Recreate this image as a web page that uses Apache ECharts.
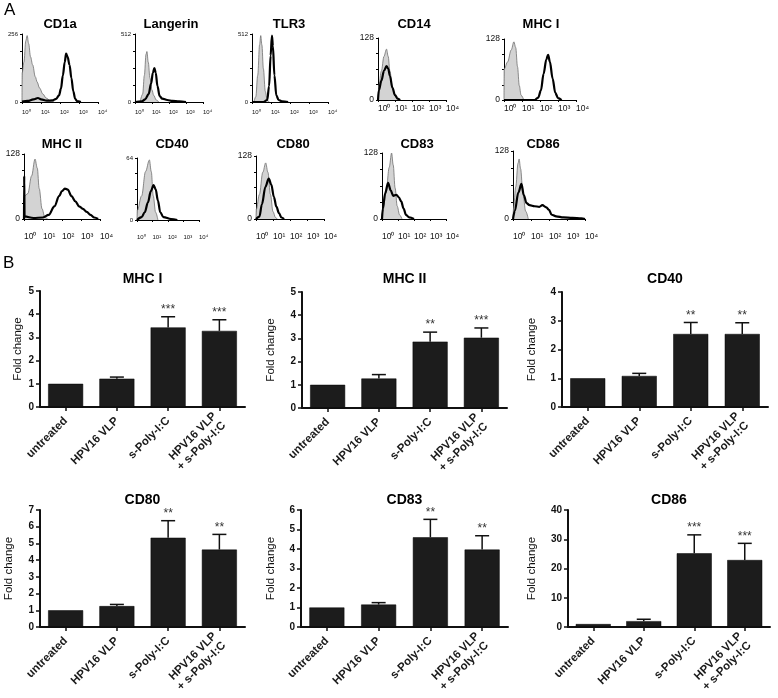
<!DOCTYPE html>
<html>
<head>
<meta charset="utf-8">
<script src="https://cdn.jsdelivr.net/npm/echarts@6/dist/echarts.min.js"></script>
<style>
html,body{margin:0;padding:0;background:#fff;}
#main{width:778px;height:698px;}
</style>
</head>
<body>
<div id="main"></div>
<script>
// ---------- Panel A: flow histograms, x = log10 fluorescence (decades), y = cell count
const decadeLabels = ['10⁰', '10¹', '10²', '10³', '10⁴'];
const histMarkers = ['CD1a', 'Langerin', 'TLR3', 'CD14', 'MHC I', 'MHC II', 'CD40', 'CD80', 'CD83', 'CD86'];
const histYMax = [256, 512, 512, 128, 128, 128, 64, 128, 128, 128];

// grey = isotype control, black = marker staining
const cd1aIso = [[0,0],[0.01,110],[0.1,150],[0.2,230],[0.27,250],[0.35,220],[0.45,170],[0.56,140],[0.7,95],[0.8,75],[0.92,53],[1.1,30],[1.27,15],[1.5,4],[1.7,0]];
const cd1aStain = [[0,2],[0.3,4],[0.6,10],[0.84,15],[1.0,10],[1.3,5],[1.6,6],[1.8,12],[1.95,25],[2.05,50],[2.15,100],[2.25,150],[2.32,182],[2.4,170],[2.5,140],[2.6,90],[2.7,40],[2.8,12],[2.9,3],[3.1,0]];
const langerinIso = [[0.3,0],[0.45,60],[0.55,200],[0.65,360],[0.7,380],[0.78,300],[0.88,180],[1.0,90],[1.1,50],[1.25,15],[1.4,0]];
const langerinStain = [[0,0],[0.4,5],[0.6,20],[0.8,60],[0.95,140],[1.05,220],[1.14,256],[1.22,220],[1.32,120],[1.45,45],[1.6,25],[1.9,15],[2.2,8],[2.6,4],[3.0,0]];
const tlr3Iso = [[0.1,0],[0.2,40],[0.3,200],[0.4,430],[0.46,500],[0.52,430],[0.6,250],[0.7,80],[0.8,15],[0.9,0]];
const tlr3Stain = [[0,0],[0.6,0],[0.8,15],[0.9,120],[0.98,350],[1.05,500],[1.1,420],[1.18,200],[1.28,50],[1.4,15],[1.6,5],[1.9,0]];
const cd14Iso = [[0,0],[0.05,30],[0.2,60],[0.35,90],[0.5,105],[0.6,90],[0.7,60],[0.85,25],[1.0,8],[1.15,0]];
const cd14Stain = [[0,0],[0.05,20],[0.2,40],[0.35,60],[0.5,70],[0.6,65],[0.7,50],[0.85,25],[1.0,10],[1.15,3],[1.3,0]];
const mhc1Iso = [[0,0],[0.01,65],[0.2,80],[0.4,105],[0.55,122],[0.65,110],[0.75,70],[0.85,30],[0.95,10],[1.1,0]];
const mhc1Stain = [[0,0],[1.7,0],[1.9,5],[2.05,20],[2.2,55],[2.35,85],[2.45,95],[2.55,80],[2.7,45],[2.85,15],[3.0,4],[3.2,0]];
const mhc2Iso = [[0,0],[0.02,45],[0.2,50],[0.4,85],[0.58,118],[0.7,100],[0.8,60],[0.95,20],[1.1,3],[1.25,0]];
const mhc2Stain = [[0,0],[0.01,85],[0.03,5],[0.5,2],[1.0,3],[1.3,8],[1.6,25],[1.85,45],[2.0,55],[2.15,60],[2.3,58],[2.5,45],[2.7,35],[2.9,25],[3.1,20],[3.3,14],[3.5,8],[3.7,3],[3.9,0]];
const cd40Iso = [[0,0],[0.02,10],[0.3,25],[0.55,50],[0.8,62],[0.92,50],[1.05,25],[1.2,8],[1.35,0]];
const cd40Stain = [[0,0],[0.3,3],[0.5,8],[0.7,18],[0.9,30],[1.07,36],[1.2,32],[1.35,20],[1.5,8],[1.7,3],[2.2,1],[2.6,0]];
const cd80Iso = [[0,0],[0.02,20],[0.2,50],[0.4,95],[0.57,114],[0.7,95],[0.85,50],[1.0,15],[1.15,3],[1.25,0]];
const cd80Stain = [[0,0],[0.2,5],[0.35,30],[0.55,65],[0.75,82],[0.9,70],[1.05,45],[1.2,25],[1.35,12],[1.5,3],[1.65,0]];
const cd83Iso = [[0,0],[0.05,15],[0.25,50],[0.45,100],[0.6,128],[0.7,105],[0.82,60],[0.95,25],[1.1,8],[1.25,0]];
const cd83Stain = [[0,0],[0.05,20],[0.2,50],[0.38,70],[0.55,55],[0.7,45],[0.9,47],[1.05,42],[1.2,34],[1.35,20],[1.5,8],[1.7,3],[2.0,0]];
const cd86Iso = [[0,0],[0.03,20],[0.15,60],[0.28,105],[0.34,113],[0.42,95],[0.55,50],[0.7,15],[0.85,0]];
const cd86Stain = [[0,0],[0.1,15],[0.3,50],[0.47,66],[0.6,45],[0.75,30],[0.92,26],[1.2,24],[1.46,23],[1.63,26],[1.85,22],[2.0,17],[2.15,8],[2.4,5],[2.8,3],[3.3,2],[3.8,1],[4,0]];

const histIso = [cd1aIso, langerinIso, tlr3Iso, cd14Iso, mhc1Iso, mhc2Iso, cd40Iso, cd80Iso, cd83Iso, cd86Iso];
const histStain = [cd1aStain, langerinStain, tlr3Stain, cd14Stain, mhc1Stain, mhc2Stain, cd40Stain, cd80Stain, cd83Stain, cd86Stain];

// ---------- Panel B: fold change of surface markers
const barCategories = ['untreated', 'HPV16 VLP', 's-Poly-I:C', 'HPV16 VLP\n+ s-Poly-I:C'];
const barMarkers = ['MHC I', 'MHC II', 'CD40', 'CD80', 'CD83', 'CD86'];
const barYMax = [5, 5, 4, 7, 6, 40];
const barYStep = [1, 1, 1, 1, 1, 10];
const mhc1Mean = [1.0, 1.22, 3.43, 3.28];
const mhc1Sem = [0, 0.07, 0.46, 0.48];
const mhc1Sig = ['', '', '***', '***'];
const mhc2Mean = [1.0, 1.27, 2.86, 3.03];
const mhc2Sem = [0, 0.17, 0.41, 0.42];
const mhc2Sig = ['', '', '**', '***'];
const cd40Mean = [1.0, 1.08, 2.54, 2.54];
const cd40Sem = [0, 0.09, 0.40, 0.39];
const cd40Sig = ['', '', '**', '**'];
const cd80Mean = [1.0, 1.25, 5.34, 4.63];
const cd80Sem = [0, 0.10, 1.02, 0.91];
const cd80Sig = ['', '', '**', '**'];
const cd83Mean = [1.0, 1.15, 4.60, 3.97];
const cd83Sem = [0, 0.10, 0.92, 0.71];
const cd83Sig = ['', '', '**', '**'];
const cd86Mean = [1.0, 2.0, 25.2, 22.9];
const cd86Sem = [0, 0.65, 6.3, 5.7];
const cd86Sig = ['', '', '***', '***'];

const barMeans = [mhc1Mean, mhc2Mean, cd40Mean, cd80Mean, cd83Mean, cd86Mean];
const barSems = [mhc1Sem, mhc2Sem, cd40Sem, cd80Sem, cd83Sem, cd86Sem];
const barSigs = [mhc1Sig, mhc2Sig, cd40Sig, cd80Sig, cd83Sig, cd86Sig];

// ---------- layout (pixels)
const FONT = '"Liberation Sans", Arial, sans-serif';
// left, top, width, height, tick font size, x-label margin
const histBox = [
  [22, 34, 76, 68, 6, 7], [135, 34, 68, 68, 6, 7], [252, 34, 76, 68, 6, 7],
  [378, 38, 68, 62, 8.5, 4], [504, 39, 72, 61, 8.5, 4],
  [24, 154, 76, 65, 8.5, 13], [137, 158, 62, 62, 6, 14], [256, 156, 68, 63, 8.5, 13],
  [382, 153, 64, 66, 8.5, 13], [513, 151, 72, 68, 8.5, 13]
];
const histTitlePos = [[60,24],[171,24],[289,24],[414,24],[541,24],[62,144],[172,144],[293,144],[417,144],[543,144]];
// left, top, width, height, y-name gap
const barBox = [
  [40, 291, 205, 116, 16], [302, 292, 205, 116, 25], [562, 292, 206, 115, 24],
  [40, 510, 205, 117, 25], [301, 510, 207, 117, 24], [568, 510, 202, 117, 30]
];
const barTitleY = [279, 279, 279, 500, 500, 500];

const grid = [], xAxis = [], yAxis = [], series = [], graphic = [];

histMarkers.forEach(function (name, i) {
  const b = histBox[i];
  const fs = b[4], ymax = histYMax[i];
  grid.push({left: b[0], top: b[1], width: b[2], height: b[3], containLabel: false, outerBoundsMode: 'none'});
  xAxis.push({
    type: 'value', gridIndex: i, min: 0, max: 4, interval: 1,
    axisLine: {show: true, onZero: false, lineStyle: {color: '#000', width: 1}},
    axisTick: {show: true, length: 2, lineStyle: {color: '#000', width: 1}},
    splitLine: {show: false},
    axisLabel: {fontSize: fs, color: '#111', fontFamily: FONT, align: 'left', margin: b[5],
      formatter: function (v) { return decadeLabels[Math.round(v)] || ''; }}
  });
  yAxis.push({
    type: 'value', gridIndex: i, min: 0, max: ymax, interval: ymax / 4,
    axisLine: {show: true, lineStyle: {color: '#000', width: 1}},
    axisTick: {show: true, length: 2, lineStyle: {color: '#000', width: 1}},
    splitLine: {show: false},
    axisLabel: {fontSize: fs, color: '#111', fontFamily: FONT, margin: 4,
      formatter: function (v) { return (v === 0 || v === ymax) ? String(v) : ''; }}
  });
  series.push({
    type: 'line', xAxisIndex: i, yAxisIndex: i, data: histIso[i], symbol: 'none',
    smooth: 0.35, smoothMonotone: 'x', z: 2, silent: true,
    lineStyle: {color: '#707070', width: 0.8}, areaStyle: {color: '#d3d3d3', opacity: 1}
  });
  series.push({
    type: 'line', xAxisIndex: i, yAxisIndex: i, data: histStain[i], symbol: 'none',
    smooth: 0.35, smoothMonotone: 'x', z: 3, silent: true,
    lineStyle: {color: '#000', width: 2.2}
  });
  graphic.push({type: 'text', x: histTitlePos[i][0], y: histTitlePos[i][1],
    style: {text: name, font: 'bold 13px ' + FONT, fill: '#000', textAlign: 'center', textVerticalAlign: 'middle'}});
});

barMarkers.forEach(function (name, j) {
  const g = histMarkers.length + j;
  const b = barBox[j];
  const means = barMeans[j], sems = barSems[j], sigs = barSigs[j];
  grid.push({left: b[0], top: b[1], width: b[2], height: b[3], containLabel: false, outerBoundsMode: 'none'});
  xAxis.push({
    type: 'category', gridIndex: g, data: barCategories, boundaryGap: true,
    axisLine: {show: true, lineStyle: {color: '#111', width: 2}},
    axisTick: {show: true, alignWithLabel: true, length: 4, lineStyle: {color: '#111', width: 1.5}},
    axisLabel: {interval: 0, rotate: 45, fontSize: 11.5, fontWeight: 'bold', color: '#1a1a1a',
      fontFamily: FONT, margin: 12, lineHeight: 13}
  });
  yAxis.push({
    type: 'value', gridIndex: g, min: 0, max: barYMax[j], interval: barYStep[j],
    name: 'Fold change', nameLocation: 'middle', nameGap: b[4],
    nameTextStyle: {fontSize: 11.5, color: '#111', fontFamily: FONT},
    axisLine: {show: true, lineStyle: {color: '#111', width: 2}},
    axisTick: {show: true, length: 4, lineStyle: {color: '#111', width: 1.5}},
    splitLine: {show: false},
    axisLabel: {fontSize: 10, fontWeight: 'bold', color: '#111', fontFamily: FONT, margin: 6}
  });
  series.push({
    type: 'bar', xAxisIndex: g, yAxisIndex: g, data: means, barWidth: 35, silent: true,
    itemStyle: {color: '#1c1c1c', borderColor: '#000', borderWidth: 0.5}
  });
  series.push({
    type: 'custom', xAxisIndex: g, yAxisIndex: g, silent: true, z: 5,
    data: means.map(function (m, k) { return [k, m, sems[k]]; }),
    renderItem: function (params, api) {
      const k = api.value(0), m = api.value(1), e = api.value(2);
      const base = api.coord([k, m]);
      const top = api.coord([k, m + e]);
      const children = [];
      if (e > 0) {
        children.push({type: 'line', shape: {x1: base[0], y1: base[1], x2: top[0], y2: top[1]},
          style: {stroke: '#111', lineWidth: 1.5}});
        children.push({type: 'line', shape: {x1: top[0] - 7, y1: top[1], x2: top[0] + 7, y2: top[1]},
          style: {stroke: '#111', lineWidth: 1.5}});
      }
      const sig = sigs[params.dataIndex];
      if (sig) {
        children.push({type: 'text', style: {text: sig, x: top[0], y: top[1] - 1, textAlign: 'center',
          textVerticalAlign: 'bottom', font: '12px ' + FONT, fill: '#333'}});
      }
      return {type: 'group', children: children};
    }
  });
  graphic.push({type: 'text', x: b[0] + b[2] / 2, y: barTitleY[j],
    style: {text: name, font: 'bold 14px ' + FONT, fill: '#000', textAlign: 'center', textVerticalAlign: 'middle'}});
});

graphic.push({type: 'text', x: 4, y: 2, style: {text: 'A', font: '17px ' + FONT, fill: '#000'}});
graphic.push({type: 'text', x: 3, y: 255, style: {text: 'B', font: '17px ' + FONT, fill: '#000'}});

const chart = echarts.init(document.getElementById('main'), null, {renderer: 'canvas'});
chart.setOption({
  backgroundColor: '#fff',
  animation: false,
  grid: grid, xAxis: xAxis, yAxis: yAxis, series: series, graphic: graphic
});
</script>
</body>
</html>
